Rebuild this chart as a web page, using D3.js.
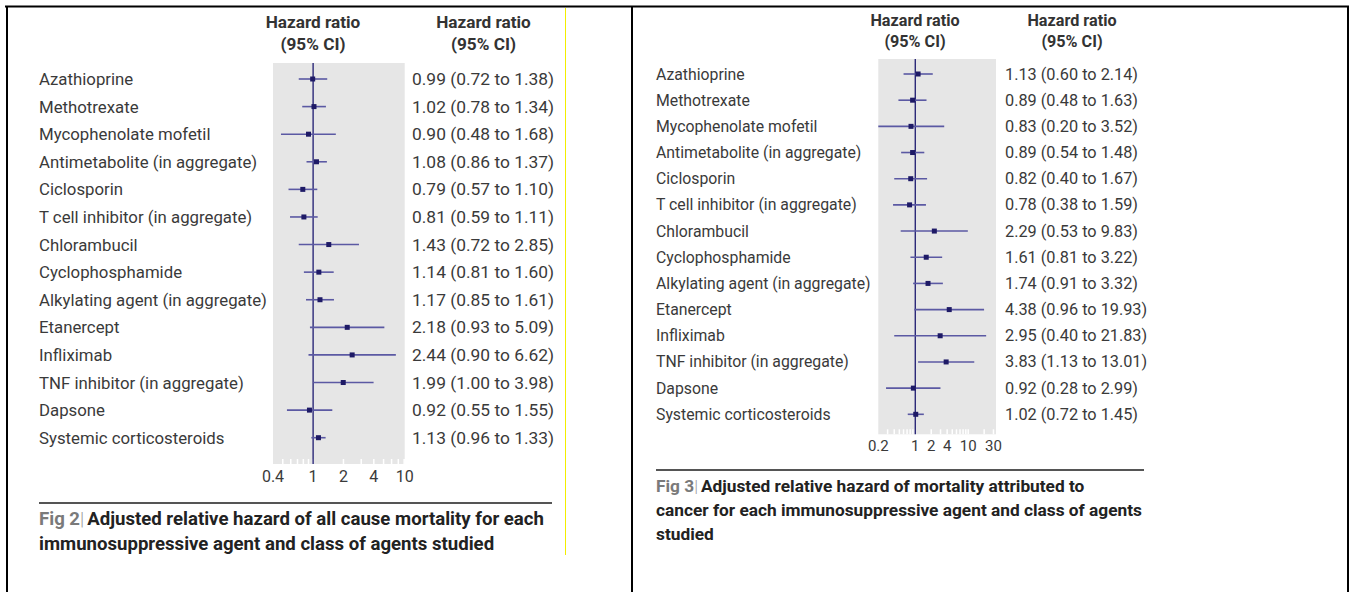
<!DOCTYPE html>
<html>
<head>
<meta charset="utf-8">
<script src="https://cdn.jsdelivr.net/npm/d3@7"></script>
<style>
  html, body { margin: 0; padding: 0; background: #fff; }
  svg { display: block; }
</style>
</head>
<body>
<svg id="chart" width="1349" height="592"></svg>
<script>
// ---------- data ----------
const categories = [
  "Azathioprine", "Methotrexate", "Mycophenolate mofetil",
  "Antimetabolite (in aggregate)", "Ciclosporin", "T cell inhibitor (in aggregate)",
  "Chlorambucil", "Cyclophosphamide", "Alkylating agent (in aggregate)",
  "Etanercept", "Infliximab", "TNF inhibitor (in aggregate)",
  "Dapsone", "Systemic corticosteroids"
];
// Fig 2: all cause mortality
const fig2HR = [0.99, 1.02, 0.90, 1.08, 0.79, 0.81, 1.43, 1.14, 1.17, 2.18, 2.44, 1.99, 0.92, 1.13];
const fig2Lo = [0.72, 0.78, 0.48, 0.86, 0.57, 0.59, 0.72, 0.81, 0.85, 0.93, 0.90, 1.00, 0.55, 0.96];
const fig2Hi = [1.38, 1.34, 1.68, 1.37, 1.10, 1.11, 2.85, 1.60, 1.61, 5.09, 6.62, 3.98, 1.55, 1.33];
const fig2TickLabels = [0.4, 1, 2, 4, 10];
const fig2Domain = [0.4, 8.1];
// Fig 3: mortality attributed to cancer
const fig3HR = [1.13, 0.89, 0.83, 0.89, 0.82, 0.78, 2.29, 1.61, 1.74, 4.38, 2.95, 3.83, 0.92, 1.02];
const fig3Lo = [0.60, 0.48, 0.20, 0.54, 0.40, 0.38, 0.53, 0.81, 0.91, 0.96, 0.40, 1.13, 0.28, 0.72];
const fig3Hi = [2.14, 1.63, 3.52, 1.48, 1.67, 1.59, 9.83, 3.22, 3.32, 19.93, 21.83, 13.01, 2.99, 1.45];
const fig3TickLabels = [0.2, 1, 2, 4, 10, 30];
const fig3Domain = [0.2, 33.5];

const headerText = ["Hazard ratio", "(95% CI)"];
const fig2Caption = ["Adjusted relative hazard of all cause mortality for each",
                     "immunosuppressive agent and class of agents studied"];
const fig3Caption = ["Adjusted relative hazard of mortality attributed to",
                     "cancer for each immunosuppressive agent and class of agents",
                     "studied"];

// ---------- styles ----------
const FONT = "Roboto, 'Noto Sans', sans-serif";
const TEXT = "#3a3a3a";
const NAVY = "#2b2878";
const CI = "#5b59a3";
const PANEL = "#e6e6e6";

const svg = d3.select("#chart");
svg.append("rect").attr("width", 1349).attr("height", 592).attr("fill", "#fff");

// outer table borders
const border = svg.append("g").attr("stroke", "#000").attr("fill", "none");
border.append("line").attr("x1", 5).attr("x2", 1349).attr("y1", 6.5).attr("y2", 6.5).attr("stroke-width", 2);
border.append("line").attr("x1", 7).attr("x2", 7).attr("y1", 6).attr("y2", 592).attr("stroke-width", 2);
border.append("line").attr("x1", 632).attr("x2", 632).attr("y1", 6).attr("y2", 592).attr("stroke-width", 2);
border.append("line").attr("x1", 1348).attr("x2", 1348).attr("y1", 6).attr("y2", 592).attr("stroke-width", 2);
// yellow image edge
svg.append("line").attr("x1", 565.5).attr("x2", 565.5).attr("y1", 8).attr("y2", 555)
  .attr("stroke", "#f2ee00").attr("stroke-width", 1);

function fmtRow(hr, lo, hi) {
  const f = d3.format(".2f");
  return `${f(hr)} (${f(lo)} to ${f(hi)})`;
}

function drawPanel(cfg) {
  const g = svg.append("g");
  const x = d3.scaleLog().domain(cfg.domain).range([cfg.px0, cfg.px1]).clamp(true);
  const y = d3.scalePoint().domain(categories).range([cfg.row0, cfg.row1]);
  const rows = categories.map((c, i) => ({c, hr: cfg.hr[i], lo: cfg.lo[i], hi: cfg.hi[i]}));

  // headers
  [cfg.h1x, cfg.h2x].forEach(hx => {
    headerText.forEach((t, k) => {
      g.append("text").attr("x", hx).attr("y", cfg.hy[k])
        .attr("text-anchor", "middle").attr("font-family", FONT)
        .attr("font-weight", 700).attr("font-size", cfg.hfs).attr("fill", "#333")
        .attr("dominant-baseline", "central").text(t);
    });
  });

  // grey panel
  g.append("rect").attr("x", cfg.px0).attr("y", cfg.top)
    .attr("width", cfg.px1 - cfg.px0).attr("height", cfg.bottom - cfg.top)
    .attr("fill", PANEL);

  // minor ticks (white) at panel bottom
  const tks = x.ticks().filter(v => v > cfg.domain[0] && v < cfg.domain[1]);
  g.append("g").selectAll("line").data(tks).join("line")
    .attr("x1", d => x(d)).attr("x2", d => x(d))
    .attr("y1", cfg.bottom - 5).attr("y2", cfg.bottom)
    .attr("stroke", "#fff").attr("stroke-width", 1.5);

  // tick labels
  g.append("g").selectAll("text").data(cfg.tickLabels).join("text")
    .attr("x", d => x(d)).attr("y", cfg.tickY)
    .attr("text-anchor", "middle").attr("dominant-baseline", "central")
    .attr("font-family", FONT).attr("font-size", cfg.tfs).attr("fill", TEXT)
    .text(d => String(d));

  // reference line at 1
  g.append("line").attr("x1", x(1)).attr("x2", x(1))
    .attr("y1", cfg.top).attr("y2", cfg.bottom)
    .attr("stroke", NAVY).attr("stroke-width", 1.4);

  // CIs
  g.append("g").selectAll("line").data(rows).join("line")
    .attr("x1", d => x(d.lo)).attr("x2", d => x(d.hi))
    .attr("y1", d => y(d.c)).attr("y2", d => y(d.c))
    .attr("stroke", CI).attr("stroke-width", 1.6);

  // point estimates
  g.append("g").selectAll("rect").data(rows).join("rect")
    .attr("x", d => x(d.hr) - 2.5).attr("y", d => y(d.c) - 2.5)
    .attr("width", 5).attr("height", 5).attr("fill", "#1e1a66");

  // row labels
  g.append("g").selectAll("text").data(rows).join("text")
    .attr("x", cfg.labelX).attr("y", d => y(d.c))
    .attr("dominant-baseline", "central")
    .attr("font-family", FONT).attr("font-size", cfg.fs).attr("fill", TEXT)
    .text(d => d.c);

  // value labels
  g.append("g").selectAll("text").data(rows).join("text")
    .attr("x", cfg.valueX).attr("y", d => y(d.c))
    .attr("dominant-baseline", "central")
    .attr("font-family", FONT).attr("font-size", cfg.vfs).attr("fill", TEXT)
    .text(d => fmtRow(d.hr, d.lo, d.hi));

  // caption rule
  g.append("line").attr("x1", cfg.labelX).attr("x2", cfg.ruleX1)
    .attr("y1", cfg.ruleY).attr("y2", cfg.ruleY)
    .attr("stroke", "#555").attr("stroke-width", 2);

  // caption
  cfg.caption.forEach((line, k) => {
    const t = g.append("text").attr("x", cfg.labelX).attr("y", cfg.capY + k * cfg.capDy)
      .attr("dominant-baseline", "central")
      .attr("font-family", FONT).attr("font-weight", 700)
      .attr("font-size", cfg.capFs).attr("fill", "#222");
    if (k === 0) {
      t.append("tspan").attr("fill", "#7a7a7a").text(cfg.figLabel);
      t.append("tspan").attr("fill", "#9a9a9a").attr("font-weight", 300).text("|");
      t.append("tspan").attr("dx", 3).text(line);
    } else {
      t.text(line);
    }
  });
}

drawPanel({
  domain: fig2Domain, px0: 273, px1: 404.7, top: 63, bottom: 464,
  row0: 79, row1: 437.7, hr: fig2HR, lo: fig2Lo, hi: fig2Hi,
  tickLabels: fig2TickLabels, tickY: 476, tfs: 16,
  h1x: 313, h2x: 483.5, hy: [22, 44], hfs: 17.2,
  labelX: 39, valueX: 412, fs: 16.8, vfs: 17.4,
  ruleX1: 552, ruleY: 503, caption: fig2Caption, figLabel: "Fig 2",
  capY: 519, capDy: 25, capFs: 18.6
});

drawPanel({
  domain: fig3Domain, px0: 878.3, px1: 996, top: 59, bottom: 434.3,
  row0: 74, row1: 414.3, hr: fig3HR, lo: fig3Lo, hi: fig3Hi,
  tickLabels: fig3TickLabels, tickY: 446, tfs: 15,
  h1x: 915, h2x: 1072, hy: [20, 41], hfs: 16.2,
  labelX: 656, valueX: 1005, fs: 15.8, vfs: 16.3,
  ruleX1: 1144, ruleY: 470, caption: fig3Caption, figLabel: "Fig 3",
  capY: 486, capDy: 24, capFs: 17.3
});
</script>
</body>
</html>
